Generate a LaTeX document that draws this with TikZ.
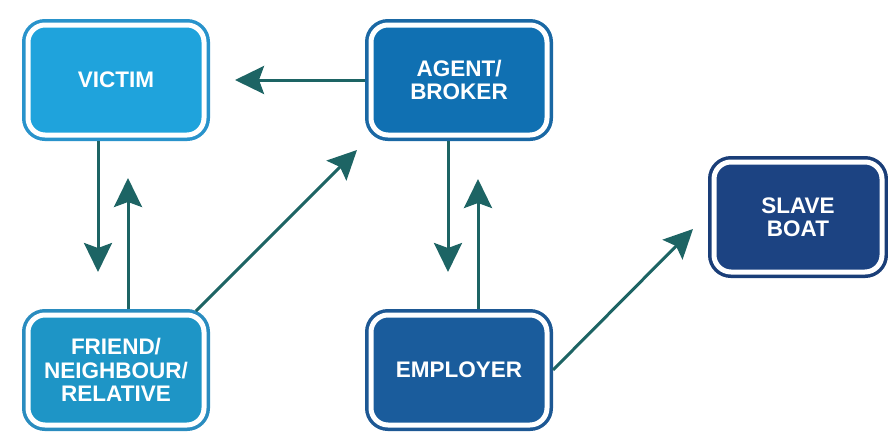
\documentclass[tikz,border=0pt]{standalone}
\usepackage{fontspec}
\setmainfont{Liberation Sans}
\usetikzlibrary{arrows.meta,calc,positioning}
\definecolor{victimfill}{HTML}{1FA3DC}
\definecolor{victimring}{HTML}{2993CB}
\definecolor{agentfill}{HTML}{1070B2}
\definecolor{agentring}{HTML}{1A68A4}
\definecolor{friendfill}{HTML}{1E95C6}
\definecolor{friendring}{HTML}{2A8CBF}
\definecolor{employerfill}{HTML}{1A5C9C}
\definecolor{employerring}{HTML}{1D5894}
\definecolor{boatfill}{HTML}{1C4382}
\definecolor{boatring}{HTML}{1A3E78}
\definecolor{arrowteal}{HTML}{1D6464}
\tikzset{
      arr/.style = {-{Stealth[length=29pt, width=28pt, inset=5pt]},
                    line width=3pt, draw=arrowteal},   % heavy teal arrows
     base/.style = {rectangle, rounded corners=17pt, draw=white, line width=5pt,
                    minimum width=176pt, minimum height=110pt, outer sep=6pt,
                    text=white, align=center,
                    font=\bfseries\fontsize{22.5}{23.5}\selectfont},
   framed/.style 2 args = {base, fill=#1, preaction={draw=#2, line width=12pt}},
        }

\begin{document}
\begin{tikzpicture}[x=1pt, y=-1pt,
        node distance=155pt,
      ]
  \useasboundingbox (0,0) rectangle (888,432);

  \node[framed={victimfill}{victimring}] (victim) at (116,80) {VICTIM};
  \node[framed={agentfill}{agentring}] (agent) [right=of victim] {AGENT/\\BROKER};
  \node[framed={friendfill}{friendring}] (friend) [below=168pt of victim] {FRIEND/\\NEIGHBOUR/\\RELATIVE};
  \node[framed={employerfill}{employerring}] (employer) [right=of friend] {EMPLOYER};
  \node[framed={boatfill}{boatring}, minimum width=168pt] (boat) at (798,217) {SLAVE\\BOAT};

  \draw[arr, shorten >=25pt] (agent.west) -- (agent.west -| victim.east);
  \draw[arr, shorten >=37pt] ($(victim.south)+(-18,0)$) -- ($(friend.north)+(-18,0)$);
  \draw[arr, shorten >=37pt] ($(friend.north)+(12,0)$) -- ($(victim.south)+(12,0)$);
  \draw[arr] ($(friend.north east)+(-14,2)$) -- ($(agent.south west)+(-8,9)$);

  \draw[arr, shorten >=37pt] ($(agent.south)+(-11,0)$) -- ($(employer.north)+(-11,0)$);
  \draw[arr, shorten >=38pt] ($(employer.north)+(19,0)$) -- ($(agent.south)+(19,0)$);
  \draw[arr] (employer.east) -- ($(boat.west)+(-15,12)$);
\end{tikzpicture}
\end{document}
